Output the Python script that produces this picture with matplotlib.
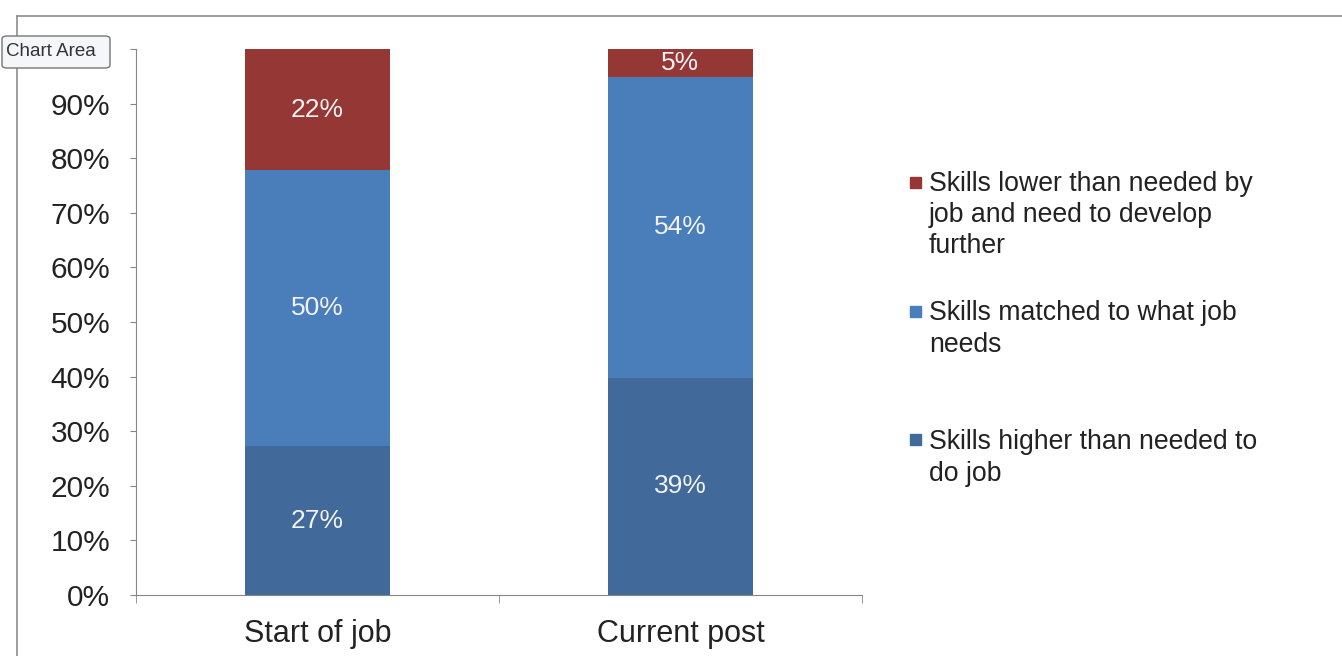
import matplotlib.pyplot as plt
import numpy as np
from matplotlib.patches import Rectangle, FancyBboxPatch

plt.rcParams['font.family'] = ['Liberation Sans', 'DejaVu Sans']

# Data
categories = ['Start of job', 'Current post']
higher = np.array([27, 39])
matched = np.array([50, 54])
lower = np.array([22, 5])
series = [
    ('Skills higher than needed to\ndo job', higher, '#41699a'),
    ('Skills matched to what job\nneeds', matched, '#4a7ebb'),
    ('Skills lower than needed by\njob and need to develop\nfurther', lower, '#953735'),
]
yticks = np.arange(0, 101, 10)

W, H = 1342, 656
fig = plt.figure(figsize=(W / 100, H / 100), dpi=100)
ax = fig.add_axes([136 / W, 1 - 595 / H, (862 - 136) / W, (595 - 49) / H])

# 100% stacked: normalise each column by its total
total = higher + matched + lower
x = np.arange(len(categories))
bottom = np.zeros(len(categories))
for name, vals, col in series:
    h = vals / total * 100
    ax.bar(x, h, 0.4, bottom=bottom, color=col, zorder=2)
    for xi, b, hi, v in zip(x, bottom, h, vals):
        ax.text(xi, b + hi / 2, f'{v}%', ha='center', va='center',
                color='#f2f2f2', fontsize=19)
    bottom += h

ax.set_xlim(-0.5, 1.5)
ax.set_ylim(0, 100)
ax.set_yticks(yticks)
# the 100% label is hidden under the tooltip in the reference
ax.set_yticklabels([f'{t}%' if t < 100 else '' for t in yticks],
                   fontsize=21.5, color='#222222')
ax.set_xticks(x)
ax.set_xticklabels(categories, fontsize=22, color='#222222')
ax.set_xticks([-0.5, 0.5, 1.5], minor=True)
ax.tick_params(axis='x', which='major', length=0, pad=17)
ax.tick_params(axis='x', which='minor', length=6, color='#868686', direction='out')
ax.tick_params(axis='y', length=4.5, color='#868686', direction='out', pad=14)
for s in ['top', 'right']:
    ax.spines[s].set_visible(False)
for s in ['left', 'bottom']:
    ax.spines[s].set_color('#868686')

# legend (top entry first)
leg_y = [215, 329, 458]
mark_y = [182, 311, 439]
for (name, vals, col), ty, my in zip(series[::-1], leg_y, mark_y):
    fig.patches.append(Rectangle((910 / W, 1 - (my + 6) / H), 11 / W, 11 / H,
                                 color=col, transform=fig.transFigure))
    fig.text(929 / W, 1 - ty / H, name, fontsize=19.2, va='center', ha='left',
             color='#222222', linespacing=1.27)

# chart area frame
fig.add_artist(plt.Line2D([17 / W, 1], [1 - 16 / H, 1 - 16 / H], color='#8c8c8c', lw=1.2))
fig.add_artist(plt.Line2D([17 / W, 17 / W], [0, 1 - 16 / H], color='#8c8c8c', lw=1.2))

# "Chart Area" tooltip
tip = FancyBboxPatch((2 / W, 1 - 68 / H), 108 / W, 32 / H,
                     boxstyle='round,pad=0,rounding_size=0.004',
                     transform=fig.transFigure, facecolor='#f4f6fa',
                     edgecolor='#767676', lw=1, zorder=10)
fig.patches.append(tip)
fig.text(6 / W, 1 - 52 / H, 'Chart Area', fontsize=13.5, va='center', ha='left',
         color='#333333', zorder=11, family=['Liberation Sans'])

fig.savefig('out.png', dpi=100)
